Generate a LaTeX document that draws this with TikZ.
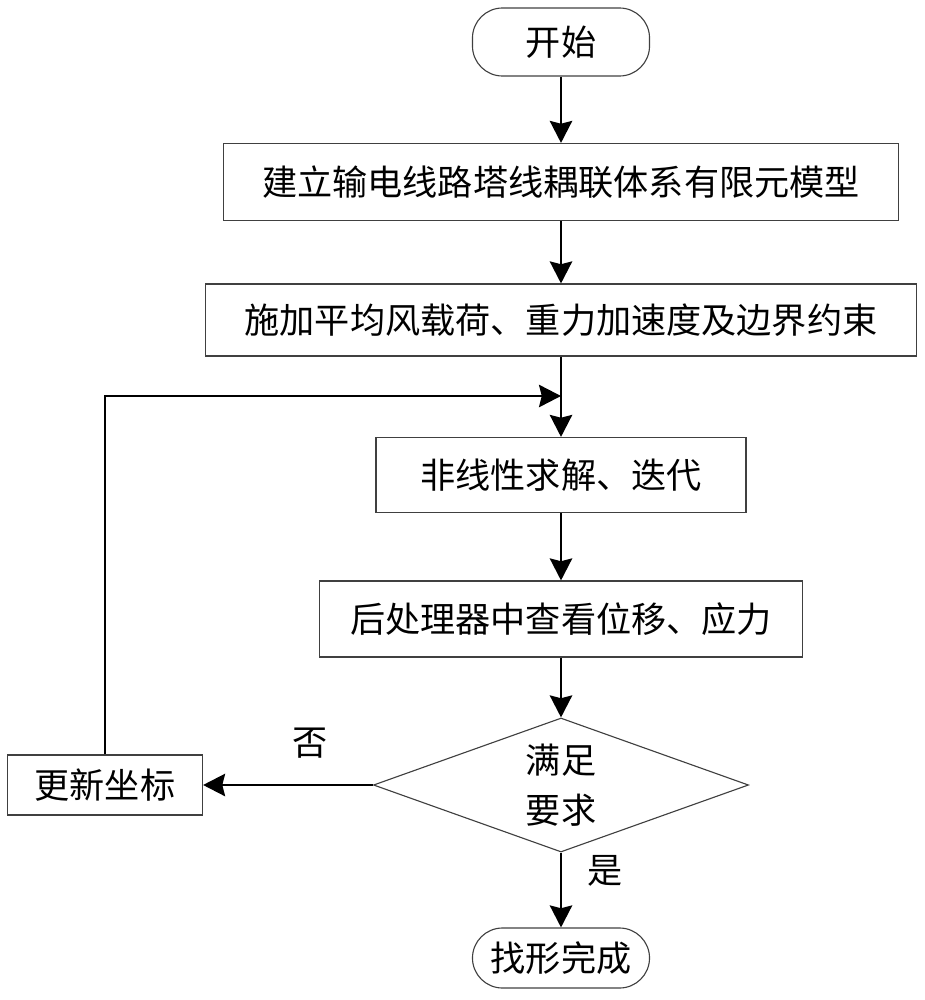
\documentclass[tikz,border=0pt]{standalone}
\usepackage{fontspec}
\newfontfamily\cjkfont{Noto Sans CJK SC}
\usetikzlibrary{arrows.meta,shapes.geometric}

\tikzset{
  stepbox/.style={draw=black!75,line width=0.8pt,inner sep=0pt,
    font=\cjkfont\fontsize{25}{35.5}\selectfont},
  termbox/.style={stepbox,rounded corners=0.75cm},
  testbox/.style={stepbox,diamond,aspect=2.8,align=center},
  flowline/.style={line width=1.6pt,-{Stealth[length=5.5mm,width=5.6mm,inset=0.7mm]}},
  branchtext/.style={font=\cjkfont\fontsize{25}{30}\selectfont,inner sep=0pt}
}

\begin{document}
\begin{tikzpicture}[x=0.025cm,y=-0.025cm]
\useasboundingbox (0,0) rectangle (925,1000);
\pgfmathsetmacro{\midX}{561}

% main column
\node[termbox,minimum width=4.425cm,minimum height=1.7cm] (start) at (\midX,42) {开始};
\node[stepbox,minimum width=16.875cm,minimum height=1.925cm] (model) at (\midX,182) {建立输电线路塔线耦联体系有限元模型};
\node[stepbox,minimum width=17.75cm,minimum height=1.8cm] (load) at (\midX,320) {施加平均风载荷、重力加速度及边界约束};
\node[stepbox,minimum width=9.25cm,minimum height=1.875cm] (solve) at (\midX,475) {非线性求解、迭代};
\node[stepbox,minimum width=12.075cm,minimum height=1.9cm] (post) at (\midX,619) {后处理器中查看位移、应力};
\node[testbox,minimum width=9.375cm,minimum height=3.35cm] (check) at (\midX,785) {满足\\要求};
\node[termbox,minimum width=4.425cm,minimum height=1.5cm] (done) at (\midX,958) {找形完成};

% loop back
\node[stepbox,minimum width=4.875cm,minimum height=1.5cm] (update) at (105,785) {更新坐标};
\coordinate (join) at (\midX,396);

\draw[flowline] (start) -- (model);
\draw[flowline] (model) -- (load);
\draw[flowline] (load) -- (solve);
\draw[flowline] (solve) -- (post);
\draw[flowline] (post) -- (check);
\draw[flowline] (check) -- (done);
\draw[flowline] (check.west) -- (update.east);
\draw[flowline] (update.north) |- (join);

% branch labels
\node[branchtext] (no) at (310,743) {否};
\node[branchtext] (yes) at (605,871) {是};
\end{tikzpicture}
\end{document}
